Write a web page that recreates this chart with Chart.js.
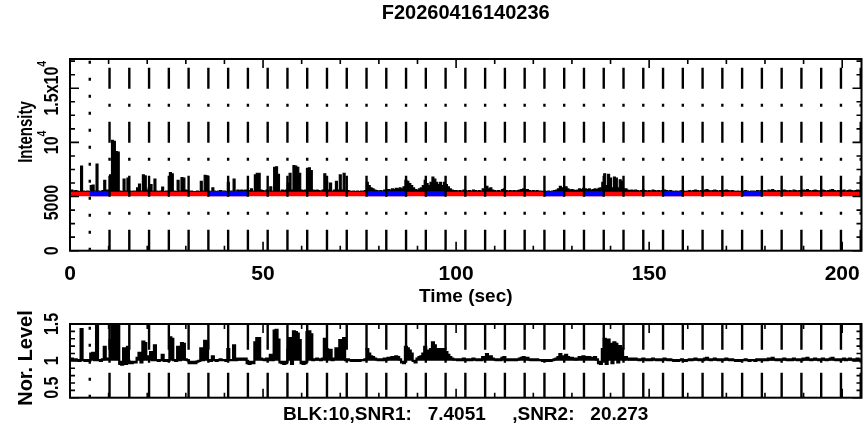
<!DOCTYPE html>
<html><head><meta charset="utf-8">
<script src="https://cdn.jsdelivr.net/npm/chart.js@4.4.1/dist/chart.umd.min.js"></script>
<style>
html,body{margin:0;padding:0;background:#fff;width:867px;height:443px;overflow:hidden}
#c1{position:absolute;left:0;top:0}
#c2{position:absolute;left:0;top:300px}
</style></head><body>
<canvas id="c1" width="867" height="310"></canvas>
<canvas id="c2" width="867" height="143"></canvas>
<script>
// ---------------- data ----------------
const chartTitle = "F20260416140236";
const xAxisTitle = "Time (sec)";
const infoLine = "BLK:10,SNR1:   7.4051     ,SNR2:   20.273";
const topYTitle = "Intensity";
const botYTitle = "Nor. Level";
const sampleStep = 0.5; // seconds between samples, first sample at t = 0

// Intensity, one row per 10 s (20 samples)
const intensity = [
5550,5600,5500,5550,5500,5450,7800,5500,5450,5500,5450,6000,6050,5500,8000,5500,5450,5550,6500,5600,
5600,7000,10200,10100,9150,9100,5500,5450,6600,5500,6700,5500,5450,5500,5500,5800,6150,5500,7000,6900,
5600,5800,6100,5500,6600,5500,5450,5500,5880,5450,5500,5450,7200,7100,5500,5450,6500,5500,6750,6700,
5600,5550,5450,5500,5450,5450,5500,5450,6400,5500,6950,6900,5500,5450,5800,5500,5450,5500,5550,5500,
5500,5450,6300,5500,5500,6600,5500,5600,5550,5600,5550,5600,5500,5550,5700,5500,7000,7150,7150,5600,
5550,5500,5600,5500,5900,5500,7700,7750,7050,5500,5600,5550,5600,6250,7150,5600,7850,7800,7700,7150,
5600,5550,5600,7600,7650,7400,5600,5550,5600,5550,5500,5600,7100,6300,5600,6250,5500,5600,6400,5600,
7000,5600,7150,5500,5550,5500,5450,5500,5450,5500,5450,5500,5500,5550,6300,6000,5800,5700,5600,5550,
5500,5550,5500,5600,5550,5650,5600,5700,5650,5750,5700,5800,5700,5900,6500,6400,6200,6000,5800,5650,
5600,5700,5800,6000,6500,6200,6000,6300,6800,6600,6300,6100,6300,6000,6300,6100,5900,5700,5600,5550,
5550,5500,5550,5500,5600,5550,5500,5550,5500,5600,5550,5500,5550,5500,5700,5650,5950,5700,5800,5600,
5550,5500,5550,5500,5650,5700,5550,5500,5550,5500,5550,5500,5550,5600,5650,5700,5600,5650,5550,5500,
5550,5500,5550,5500,5500,5450,5500,5450,5500,5450,5500,5550,5600,5700,5950,5800,5750,5900,5700,5600,
5650,5600,5550,5600,5700,5650,5750,5700,5650,5700,5600,5650,5700,5650,5750,5800,6300,7100,6000,7050,
6700,5800,6800,6700,5800,6550,6400,5700,5700,5600,5550,5600,5550,5600,5550,5500,5550,5600,5550,5500,
5550,5500,5600,5550,5500,5550,5500,5550,5600,5550,5500,5550,5500,5450,5500,5450,5500,5550,5500,5450,
5500,5550,5500,5550,5600,5550,5500,5550,5500,5600,5650,5550,5500,5550,5600,5550,5500,5550,5500,5550,
5600,5550,5500,5550,5500,5450,5500,5450,5500,5500,5550,5500,5450,5500,5500,5450,5550,5500,5550,5500,
5550,5500,5600,5550,5650,5550,5500,5550,5500,5550,5600,5550,5500,5550,5500,5600,5550,5500,5550,5500,
5600,5550,5650,5550,5500,5550,5600,5550,5500,5550,5600,5550,5500,5550,5600,5650,5550,5500,5550,5500,
5550,5600,5500,5550,5600,5550,5500,5550,5600,5550,5500
];

// Normalised level, same sampling
const norLevel = [
1.02,1.03,1.01,1.02,1.01,1.00,1.43,1.01,1.00,1.01,1.00,1.10,1.11,1.01,1.47,1.01,1.00,1.02,1.19,1.03,
1.03,1.28,1.87,1.85,1.68,1.67,0.96,0.95,1.17,0.96,1.19,0.97,0.97,0.98,0.98,1.04,1.11,0.98,1.26,1.24,
1.03,1.06,1.12,1.01,1.21,1.01,1.00,1.01,1.08,1.00,1.01,1.00,1.32,1.30,1.01,1.00,1.19,1.01,1.24,1.23,
1.02,1.01,0.97,0.98,0.97,0.97,0.99,1.00,1.17,1.01,1.27,1.26,1.01,1.00,1.06,1.01,1.00,1.01,1.02,1.01,
1.01,1.00,1.16,1.01,1.01,1.21,1.01,1.03,1.02,1.03,1.02,1.03,0.97,0.96,0.98,0.97,1.25,1.31,1.31,1.03,
1.02,1.01,1.03,1.01,1.08,1.01,1.41,1.42,1.29,0.98,0.97,0.96,0.97,1.15,1.31,0.96,1.40,1.39,1.37,1.28,
0.97,0.96,0.97,1.39,1.40,1.36,1.01,1.02,1.03,1.02,1.01,1.03,1.30,1.16,1.03,1.15,1.01,1.03,1.17,1.03,
1.28,1.03,1.31,1.01,1.02,1.01,1.00,1.01,1.00,1.01,1.00,1.01,1.01,1.02,1.16,1.10,1.06,1.05,1.03,1.02,
1.01,1.02,1.01,1.03,1.02,1.04,1.03,1.05,1.04,1.06,1.05,1.02,0.98,0.97,1.19,1.17,1.14,1.10,1.00,0.98,
1.03,1.05,1.06,1.10,1.19,1.14,1.10,1.16,1.25,1.21,1.16,1.12,1.16,1.10,1.16,1.12,1.08,1.05,1.03,1.02,
1.02,1.01,1.02,1.01,1.03,1.02,1.01,1.02,1.01,1.03,1.02,1.01,1.02,1.01,1.05,1.04,1.09,1.05,1.06,1.03,
1.02,1.01,1.02,1.01,1.04,1.05,1.02,1.01,1.02,1.01,1.02,1.01,1.02,1.03,1.04,1.05,1.03,1.04,1.02,1.01,
1.02,1.01,1.02,1.01,1.01,1.00,1.01,1.00,1.01,1.00,1.01,1.02,1.03,1.05,1.09,1.06,1.05,1.08,1.05,1.03,
1.04,1.03,1.02,1.03,1.05,1.04,1.06,1.05,1.04,1.05,1.03,1.04,1.05,1.02,0.97,0.96,1.16,1.30,0.96,1.29,
1.23,0.97,1.25,1.23,0.98,1.20,1.17,1.02,1.05,1.03,1.02,1.03,1.02,1.03,1.02,1.01,1.02,1.03,1.02,1.01,
1.02,1.01,1.03,1.02,1.01,1.02,1.01,1.02,1.03,1.02,1.01,1.02,1.01,1.00,1.01,1.00,1.01,1.02,1.01,1.00,
1.01,1.02,1.01,1.02,1.03,1.02,1.01,1.02,1.01,1.03,1.04,1.02,1.01,1.02,1.03,1.02,1.01,1.02,1.01,1.02,
1.03,1.02,1.01,1.02,1.01,1.00,1.01,1.00,1.01,1.01,1.02,1.01,1.00,1.01,1.01,1.00,1.02,1.01,1.02,1.01,
1.02,1.01,1.03,1.02,1.04,1.02,1.01,1.02,1.01,1.02,1.03,1.02,1.01,1.02,1.01,1.03,1.02,1.01,1.02,1.01,
1.03,1.02,1.04,1.02,1.01,1.02,1.03,1.02,1.01,1.02,1.03,1.02,1.01,1.02,1.03,1.04,1.02,1.01,1.02,1.01,
1.02,1.03,1.01,1.02,1.03,1.02,1.01,1.02,1.03,1.02,1.01
];

// block boundary markers (s)
const markerTimes = [5.12,10.24,15.36,20.48,25.6,30.72,35.84,40.96,46.08,51.2,
  56.32,61.44,66.56,71.68,76.8,81.92,87.04,92.16,97.28,102.4,
  107.52,112.64,117.76,122.88,128,133.12,138.24,143.36,148.48,153.6,
  158.72,163.84,168.96,174.08,179.2,184.32,189.44,194.56,199.68,204.8];
// fitted baseline level and the off-source blocks (blue)
const fitLevel = 5240;
const offStart = [5.12,35.84,76.8,92.16,122.88,133.12,153.6,174.08];
const offEnd   = [10.24,46.08,87.04,97.28,128,138.24,158.72,179.2];

// axes
const xMin = 0, xMax = 205;
const xMajorTicks = [0,50,100,150,200];
const xMinorTicks = [10,20,30,40,60,70,80,90,110,120,130,140,160,170,180,190];
const topYMin = 0, topYMax = 17700;
const topYMajor = [0,5000,10000,15000];
const topYMinor = [1250,2500,3750,6250,7500,8750,11250,12500,13750,16250,17500];
const topYLabels = [["0",""],["5000",""],["10","4"],["1.5x10","4"]];
const botYMin = 0.5, botYMax = 1.5;
const botYMajor = [0.5,1,1.5];
const botYMinor = [0.6,0.7,0.8,0.9,1.1,1.2,1.3,1.4];
const botYLabels = [["0.5",""],["1",""],["1.5",""]];

// ---------------- drawing ----------------
const FONT = "'Liberation Sans', Arial, sans-serif";

const idlAxes = {
  id: 'idlAxes',
  afterDraw(chart, args, o) {
    const {ctx, chartArea: a} = chart;
    const xs = chart.scales.x, ys = chart.scales.y;
    ctx.save();
    ctx.strokeStyle = '#000'; ctx.lineWidth = 2;
    ctx.strokeRect(a.left, a.top, a.right - a.left, a.bottom - a.top);
    ctx.lineWidth = 1.6;
    ctx.beginPath();
    const xt = (vals, len) => vals.forEach(v => {
      const p = xs.getPixelForValue(v);
      ctx.moveTo(p, a.bottom); ctx.lineTo(p, a.bottom - len);
      ctx.moveTo(p, a.top); ctx.lineTo(p, a.top + len);
    });
    const yt = (vals, len) => vals.forEach(v => {
      const p = ys.getPixelForValue(v);
      ctx.moveTo(a.left, p); ctx.lineTo(a.left + len, p);
      ctx.moveTo(a.right, p); ctx.lineTo(a.right - len, p);
    });
    xt(o.xMajor, o.xMajorLen); xt(o.xMinor, o.xMinorLen);
    yt(o.yMajor, o.yMajorLen); yt(o.yMinor, o.yMinorLen);
    ctx.stroke();
    // rotated y tick labels
    ctx.fillStyle = '#000';
    ctx.textBaseline = 'alphabetic';
    ctx.textAlign = 'left';
    o.yMajor.forEach((v, i) => {
      const [main, sup] = o.yLabels[i];
      const p = ys.getPixelForValue(v) + (o.labelShift ? o.labelShift[i] : 0);
      ctx.font = 'bold ' + o.labelSize + 'px ' + FONT;
      const wm = ctx.measureText(main).width;
      ctx.font = 'bold ' + (o.labelSize * 0.65) + 'px ' + FONT;
      const wsup = sup ? ctx.measureText(sup).width : 0;
      ctx.save();
      ctx.translate(o.labelBaseX, p);
      ctx.rotate(-Math.PI / 2);
      ctx.scale(o.labelSquash, 1);
      const start = -(wm + wsup) / 2;
      ctx.font = 'bold ' + o.labelSize + 'px ' + FONT;
      ctx.fillText(main, start, 0);
      if (sup) {
        ctx.font = 'bold ' + (o.labelSize * 0.65) + 'px ' + FONT;
        ctx.fillText(sup, start + wm, -o.labelSize * 0.62);
      }
      ctx.restore();
    });
    // rotated y title
    ctx.save();
    ctx.translate(o.titleBaseX, o.titleCenterY);
    ctx.rotate(-Math.PI / 2);
    ctx.scale(o.titleSquash, 1);
    ctx.font = 'bold ' + o.titleSize + 'px ' + FONT;
    ctx.textAlign = 'center';
    ctx.fillText(o.title, 0, 0);
    ctx.restore();
    ctx.restore();
  }
};

function markerDatasets(yLo, yHi, dashPattern) {
  return markerTimes.map((t, i) => ({
    data: [{x: t, y: yLo}, {x: t, y: yHi}],
    borderColor: '#000', borderWidth: 2.4,
    borderDash: i === 0 ? [3, 14] : dashPattern,
    pointRadius: 0, order: 0, clip: 0
  }));
}

const commonX = (extra) => Object.assign({
  type: 'linear', min: xMin, max: xMax,
  grid: {display: false}, border: {display: false},
  afterBuildTicks: s => { s.ticks = xMajorTicks.map(v => ({value: v})); }
}, extra);

// top chart
const topDatasets = [].concat(
  markerDatasets(topYMin, topYMax, [21, 15, 3, 15]),
  offStart.map((s, i) => ({
    data: [{x: s, y: fitLevel}, {x: offEnd[i], y: fitLevel}],
    borderColor: '#0000ff', borderWidth: 4.5, pointRadius: 0, order: 1
  })),
  [{
    data: [{x: xMin, y: fitLevel}, {x: xMax, y: fitLevel}],
    borderColor: '#ff0000', borderWidth: 4.5, pointRadius: 0, order: 2
  }, {
    data: intensity.map((v, i) => ({x: i * sampleStep, y: v})),
    borderColor: '#000', backgroundColor: '#000', borderWidth: 1.2,
    stepped: 'middle', fill: {value: 5300}, pointRadius: 0, order: 3
  }]
);

new Chart(document.getElementById('c1'), {
  type: 'line',
  data: {datasets: topDatasets},
  options: {
    responsive: false, animation: false, devicePixelRatio: 1,
    layout: {padding: {left: 0, right: 5.5, top: 1, bottom: 0}},
    plugins: {
      legend: {display: false}, tooltip: {enabled: false},
      title: {display: true, fullSize: false, text: chartTitle, color: '#000',
        font: {family: FONT, size: 20, weight: 'bold'}, padding: {top: 0, bottom: 34}},
      idlAxes: {xMajor: xMajorTicks, xMinor: xMinorTicks, xMajorLen: 9, xMinorLen: 5,
        yMajor: topYMajor, yMinor: topYMinor, yMajorLen: 9, yMinorLen: 5,
        yLabels: topYLabels, labelSize: 20, labelSquash: 0.8, labelBaseX: 58,
        labelShift: [0, 6, 0, 0],
        title: topYTitle, titleSize: 20, titleSquash: 0.75, titleBaseX: 32, titleCenterY: 132}
    },
    scales: {
      x: commonX({
        ticks: {color: '#000', padding: 3, maxRotation: 0, autoSkip: false,
          font: {family: FONT, size: 21, weight: 'bold'}},
        title: {display: true, text: xAxisTitle, color: '#000',
          font: {family: FONT, size: 19, weight: 'bold'}, padding: {top: 0, bottom: 1.6}},
        afterFit: s => { s.height = 310 - 250.7; }
      }),
      y: {type: 'linear', min: topYMin, max: topYMax,
        ticks: {display: false}, grid: {display: false}, border: {display: false},
        afterFit: s => { s.width = 70; }}
    }
  },
  plugins: [idlAxes]
});

// bottom chart
const botDatasets = [].concat(
  markerDatasets(botYMin, botYMax, [25, 10, 3, 10]),
  [{
    data: norLevel.map((v, i) => ({x: i * sampleStep, y: v})),
    borderColor: '#000', backgroundColor: '#000', borderWidth: 2.2,
    stepped: 'middle', fill: {value: 1}, pointRadius: 0, order: 3
  }]
);

new Chart(document.getElementById('c2'), {
  type: 'line',
  data: {datasets: botDatasets},
  options: {
    responsive: false, animation: false, devicePixelRatio: 1,
    layout: {padding: {left: 0, right: 5.5, top: 24, bottom: 0}},
    plugins: {
      legend: {display: false}, tooltip: {enabled: false},
      idlAxes: {xMajor: xMajorTicks, xMinor: xMinorTicks, xMajorLen: 9, xMinorLen: 5,
        yMajor: botYMajor, yMinor: botYMinor, yMajorLen: 9, yMinorLen: 5,
        yLabels: botYLabels, labelSize: 20, labelSquash: 0.8, labelBaseX: 58,
        labelShift: [-10, 0, 0],
        title: botYTitle, titleSize: 20, titleSquash: 1, titleBaseX: 32, titleCenterY: 58}
    },
    scales: {
      x: commonX({
        ticks: {display: false},
        title: {display: true, text: infoLine, color: '#000',
          font: {family: FONT, size: 19, weight: 'bold'}, padding: {top: 0, bottom: 16.6}},
        afterFit: s => { s.height = 143 - 97.7; }
      }),
      y: {type: 'linear', min: botYMin, max: botYMax,
        ticks: {display: false}, grid: {display: false}, border: {display: false},
        afterFit: s => { s.width = 70; }}
    }
  },
  plugins: [idlAxes]
});
</script>
</body></html>
